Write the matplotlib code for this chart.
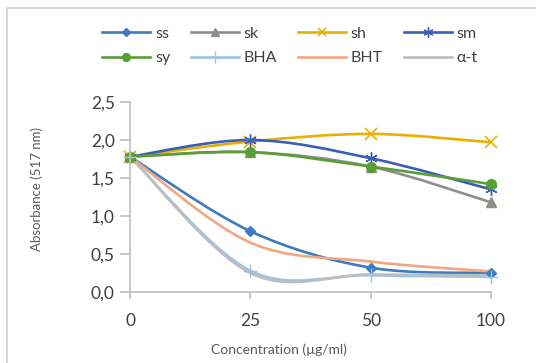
""" Absorbance (517 nm) vs concentration, DPPH style chart
    with Excel-like smoothed lines.
"""
import numpy as np
import matplotlib
matplotlib.use('Agg')
import matplotlib.pyplot as plt
from matplotlib.path import Path
from matplotlib.patches import PathPatch, Rectangle
from matplotlib.lines import Line2D

plt.rcParams['font.family'] = ['Lato', 'DejaVu Sans']

# Data
concentrations = ['0', '25', '50', '100']
ss = [1.78, 0.80, 0.32, 0.25]
sk = [1.78, 1.84, 1.65, 1.18]
sh = [1.78, 1.98, 2.08, 1.97]
sm = [1.78, 2.00, 1.76, 1.35]
sy = [1.78, 1.84, 1.65, 1.42]
bha = [1.78, 0.28, 0.22, 0.20]
bht = [1.78, 0.65, 0.40, 0.27]
alpha_t = [1.78, 0.25, 0.23, 0.22]

series = [
    ('ss', ss, '#3C7BC0', 'D', 5, 1.0),
    ('sk', sk, '#8E8E8E', '^', 7, 1.0),
    ('sh', sh, '#E8B000', 'x', 8, 1.2),
    ('sm', sm, '#3A5DB8', (6, 2, 0), 9, 1.0),
    ('sy', sy, '#5B9E34', 'o', 7, 1.0),
    ('BHA', bha, '#9DC3E6', '+', 10, 1.0),
    ('BHT', bht, '#F4A582', None, 0, 1.0),
    ('α-t', alpha_t, '#BDBDBD', None, 0, 1.0),
]


def _smooth_path(xs, ys):
    """ Bezier path through the points (Catmull-Rom control points,
        like Excel's smoothed line).
    """
    pts = np.column_stack([xs, ys]).astype(float)
    n = len(pts)
    verts = [pts[0]]
    codes = [Path.MOVETO]
    for i in range(n - 1):
        p0 = pts[i - 1] if i > 0 else pts[i]
        p1 = pts[i]
        p2 = pts[i + 1]
        p3 = pts[i + 2] if i + 2 < n else pts[i + 1]
        c1 = p1 + (p2 - p0) / 6.0
        c2 = p2 - (p3 - p1) / 6.0
        verts += [c1, c2, p2]
        codes += [Path.CURVE4] * 3
    return Path(verts, codes)


fig = plt.figure(figsize=(5.36, 3.63), dpi=100)
ax = fig.add_axes([130/536, 1 - 292/363, 361/536, 190/363])

# Outer chart frame
fig.patches.append(Rectangle((7/536, -0.01), 1.0, 1 - 8/363 + 0.01,
                             transform=fig.transFigure, fill=False,
                             edgecolor='#D0D0D0', linewidth=1.2))

x = np.arange(len(concentrations))
handles = []
for name, vals, color, marker, msize, mew in series:
    ax.add_patch(PathPatch(_smooth_path(x, vals), facecolor='none',
                           edgecolor=color, linewidth=1.9, clip_on=False))
    if marker is not None:
        ax.plot(x, vals, linestyle='none', marker=marker, markersize=msize,
                color=color, markeredgewidth=mew, clip_on=False)
    handles.append(Line2D([], [], color=color, linewidth=1.9, marker=marker,
                          markersize=msize * 0.8, markeredgewidth=mew,
                          label=name))

ax.set(xlim=(0, 3), ylim=(0, 2.5),
       xticks=x, xticklabels=concentrations,
       yticks=[0, 0.5, 1.0, 1.5, 2.0, 2.5],
       yticklabels=['0,0', '0,5', '1,0', '1,5', '2,0', '2,5'])

for side in ['top', 'right']:
    ax.spines[side].set_visible(False)
for side in ['left', 'bottom']:
    ax.spines[side].set_color('#BFBFBF')
    ax.spines[side].set_linewidth(1.2)
ax.tick_params(axis='y', direction='out', length=7, width=1.2,
               color='#BFBFBF', labelsize=12.5, labelcolor='#404040', pad=4)
ax.tick_params(axis='x', direction='out', length=5, width=1.2,
               color='#BFBFBF', labelsize=12.5, labelcolor='#404040', pad=10)

ax.set_ylabel('Absorbance (517 nm)', fontsize=9.5, color='#595959')
ax.yaxis.set_label_coords(-0.24, 0.54)
ax.set_xlabel('Concentration (µg/ml)', fontsize=10, color='#595959')
ax.xaxis.set_label_coords(149/361, -0.27)

# Legend fills column-wise, so order handles to read row-wise
order = [0, 4, 1, 5, 2, 6, 3, 7]
fig.legend(handles=[handles[i] for i in order], loc='center', ncol=4,
           bbox_to_anchor=(290/536, 1 - 46/363), frameon=False,
           fontsize=11.5, handlelength=3.0, columnspacing=1.3,
           handletextpad=0.3, labelspacing=0.65, labelcolor='#404040')

plt.savefig('out.png', dpi=100)
